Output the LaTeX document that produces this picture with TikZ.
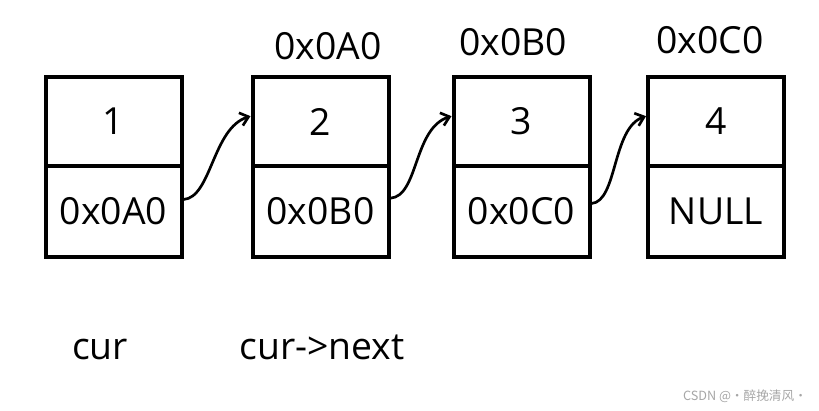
\documentclass[tikz,border=0pt]{standalone}
\usepackage{fontspec}
\setmainfont{Open Sans}
\newfontfamily\cjkfont{Noto Sans CJK SC}
\usetikzlibrary{arrows.meta}

\begin{document}
\begin{tikzpicture}[x=0.75pt,y=0.75pt,yscale=-1,xscale=1,
  cell/.style={draw,line width=3pt,minimum width=102pt,inner sep=0pt,font=\fontsize{28}{32}\selectfont},
  upper/.style={cell,minimum height=66.75pt},
  lower/.style={cell,minimum height=68.25pt},
  label/.style={inner sep=0pt,font=\fontsize{28}{32}\selectfont},
  link/.style={line width=2pt,-{Straight Barb[length=6pt,width=10pt]}}]
\useasboundingbox (0,0) rectangle (819,411);

%Node 1
\node[upper] (v1) at (113.5,121.5) {1};
\node[lower] (p1) at (113.5,211.5) {0x0A0};
%Node 2
\node[upper] (v2) at (320.5,121.5) {2};
\node[lower] (p2) at (320.5,211.5) {0x0B0};
%Node 3
\node[upper] (v3) at (521.5,121.5) {3};
\node[lower] (p3) at (521.5,211.5) {0x0C0};
%Node 4
\node[upper] (v4) at (716,121.5) {4};
\node[lower] (p4) at (716,211.5) {NULL};

% Addresses
\node[label] (a2) at (328,46) {0x0A0};
\node[label] (a3) at (513,42) {0x0B0};
\node[label] (a4) at (710,40) {0x0C0};

% Pointers
\node[label] (cur) at (100,350) {cur};
\node[label] (curnext) at (322,347) {cur->next};

%Links
\draw[link] ([yshift=-9pt]p1.east) .. controls +(28,-2) and +(-38,12) .. ([yshift=-4pt]v2.west);
\draw[link] ([yshift=-10pt]p2.east) .. controls +(28,-2) and +(-38,12) .. ([yshift=-4pt]v3.west);
\draw[link] ([yshift=-6pt]p3.east) .. controls +(26,-2) and +(-34,12) .. ([yshift=-4pt]v4.west);

% Watermark
\node[inner sep=0pt,text=black!35,font=\cjkfont\fontsize{9.5}{10}\selectfont] (mark) at (745,396) {CSDN @·醉挽清风·};

\end{tikzpicture}
\end{document}
